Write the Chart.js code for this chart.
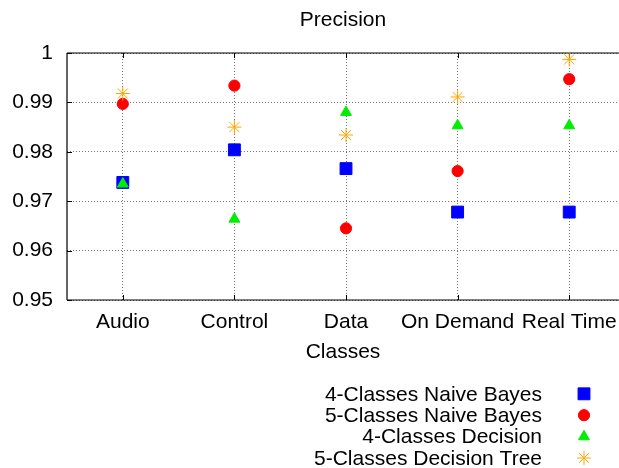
<!DOCTYPE html>
<html><head><meta charset="utf-8">
<script src="https://cdn.jsdelivr.net/npm/chart.js@4/dist/chart.umd.min.js"></script>
<style>html,body{margin:0;padding:0;background:#fff}#wrap{width:619px;height:468px}</style>
</head><body><div id="wrap"><canvas id="c" width="619" height="468"></canvas></div>
<script>
const categories = ['Audio', 'Control', 'Data', 'On Demand', 'Real Time'];
const seriesNames = ['4-Classes Naive Bayes', '5-Classes Naive Bayes', '4-Classes Decision', '5-Classes Decision Tree'];
const nb4 = [0.9738, 0.9804, 0.9766, 0.9678, 0.9678];
const nb5 = [0.9897, 0.9934, 0.9645, 0.9761, 0.9947];
const dt4 = [0.9735, 0.9664, 0.9880, 0.9853, 0.9853];
const dt5 = [0.9918, 0.9850, 0.9834, 0.9911, 0.9987];
const yTicks = [0.95, 0.96, 0.97, 0.98, 0.99, 1];
const titleText = 'Precision';
const xTitle = 'Classes';

const FONT = "'Liberation Sans', Arial, sans-serif";
Chart.defaults.font.family = FONT;
Chart.defaults.font.size = 21;
Chart.defaults.color = '#000';

const styles = [
  {color: '#0000ff', pointStyle: 'rect', radius: 8.4},
  {color: '#ff0000', pointStyle: 'circle', radius: 5.6},
  {color: '#00ee00', pointStyle: 'triangle', radius: 6.3},
  {color: '#ffa500', pointStyle: 'star', radius: 7}
];
const seriesValues = [nb4, nb5, dt4, dt5];

const datasets = seriesValues.map((vals, i) => ({
  label: seriesNames[i],
  data: vals.map((v, j) => ({x: j, y: v})),
  order: 3 - i,
  showLine: false,
  pointStyle: styles[i].pointStyle,
  pointRadius: styles[i].radius,
  pointHoverRadius: styles[i].radius,
  pointBorderWidth: 1,
  backgroundColor: styles[i].color,
  borderColor: styles[i].color,
  clip: false
}));

const framePlugin = {
  id: 'frame',
  beforeDatasetsDraw(chart) {
    const {ctx, chartArea: a} = chart;
    const ys = chart.scales.y, xs = chart.scales.x;
    ctx.save();
    ctx.strokeStyle = '#000';
    ctx.lineWidth = 1.2;
    ctx.beginPath();
    ctx.moveTo(a.left, a.top); ctx.lineTo(a.right, a.top);
    ctx.moveTo(a.left, a.bottom); ctx.lineTo(a.right, a.bottom);
    ctx.moveTo(a.left, a.top); ctx.lineTo(a.left, a.bottom);
    ctx.stroke();
    ctx.lineWidth = 1;
    ctx.beginPath();
    yTicks.forEach(v => {
      const y = Math.round(ys.getPixelForValue(v)) + 0.5;
      ctx.moveTo(a.left, y); ctx.lineTo(a.left + 5, y);
    });
    categories.forEach((c, i) => {
      const x = Math.round(xs.getPixelForValue(i)) + 0.5;
      ctx.moveTo(x, a.bottom); ctx.lineTo(x, a.bottom - 5);
      ctx.moveTo(x, a.top); ctx.lineTo(x, a.top + 5);
    });
    ctx.stroke();
    ctx.restore();
  }
};

const legendPlugin = {
  id: 'rightLegend',
  afterDraw(chart) {
    const {ctx} = chart;
    ctx.save();
    ctx.font = '21px ' + FONT;
    ctx.textAlign = 'right';
    ctx.textBaseline = 'middle';
    chart.data.datasets.forEach((ds, i) => {
      const y = 393.8 + i * 21.4;
      ctx.fillStyle = '#000';
      ctx.fillText(ds.label, 542, y + 1);
      ctx.fillStyle = ds.backgroundColor;
      ctx.strokeStyle = ds.borderColor;
      ctx.lineWidth = 1;
      Chart.helpers.drawPoint(ctx, {pointStyle: ds.pointStyle, radius: ds.pointRadius, borderWidth: 1, rotation: 0}, 584, y);
    });
    ctx.restore();
  }
};

new Chart(document.getElementById('c'), {
  type: 'scatter',
  data: {datasets},
  options: {
    responsive: false,
    devicePixelRatio: 1,
    animation: false,
    events: [],
    layout: {autoPadding: false, padding: {top: 0, left: 0, right: 0, bottom: 103}},
    plugins: {
      legend: {display: false},
      tooltip: {enabled: false},
      title: {
        display: true, text: titleText, fullSize: false,
        font: {size: 21, weight: 'normal'}, color: '#000',
        padding: {top: 8, bottom: 19.8}
      }
    },
    scales: {
      x: {
        type: 'linear', min: -0.5, max: 4.446,
        afterBuildTicks: s => { s.ticks = categories.map((_, i) => ({value: i})); },
        afterFit: s => { s.height = 65; s.paddingLeft = 0; s.paddingRight = 0; },
        ticks: {callback: v => categories[v], padding: 10, maxRotation: 0, autoSkip: false, font: {size: 21}, color: '#000'},
        grid: {color: '#777', drawTicks: false, lineWidth: 1},
        border: {display: false, dash: [1, 2]},
        title: {display: true, text: xTitle, font: {size: 21}, color: '#000', padding: {top: 0, bottom: 0}}
      },
      y: {
        min: 0.95, max: 1,
        afterBuildTicks: s => { s.ticks = yTicks.map(v => ({value: v})); },
        afterFit: s => { s.width = 67; s.paddingTop = 0; s.paddingBottom = 0; },
        ticks: {callback: v => String(v), padding: 14, font: {size: 21}, color: '#000'},
        grid: {color: '#777', drawTicks: false, lineWidth: 1},
        border: {display: false, dash: [1, 2]}
      }
    }
  },
  plugins: [framePlugin, legendPlugin]
});
</script>
</body></html>
